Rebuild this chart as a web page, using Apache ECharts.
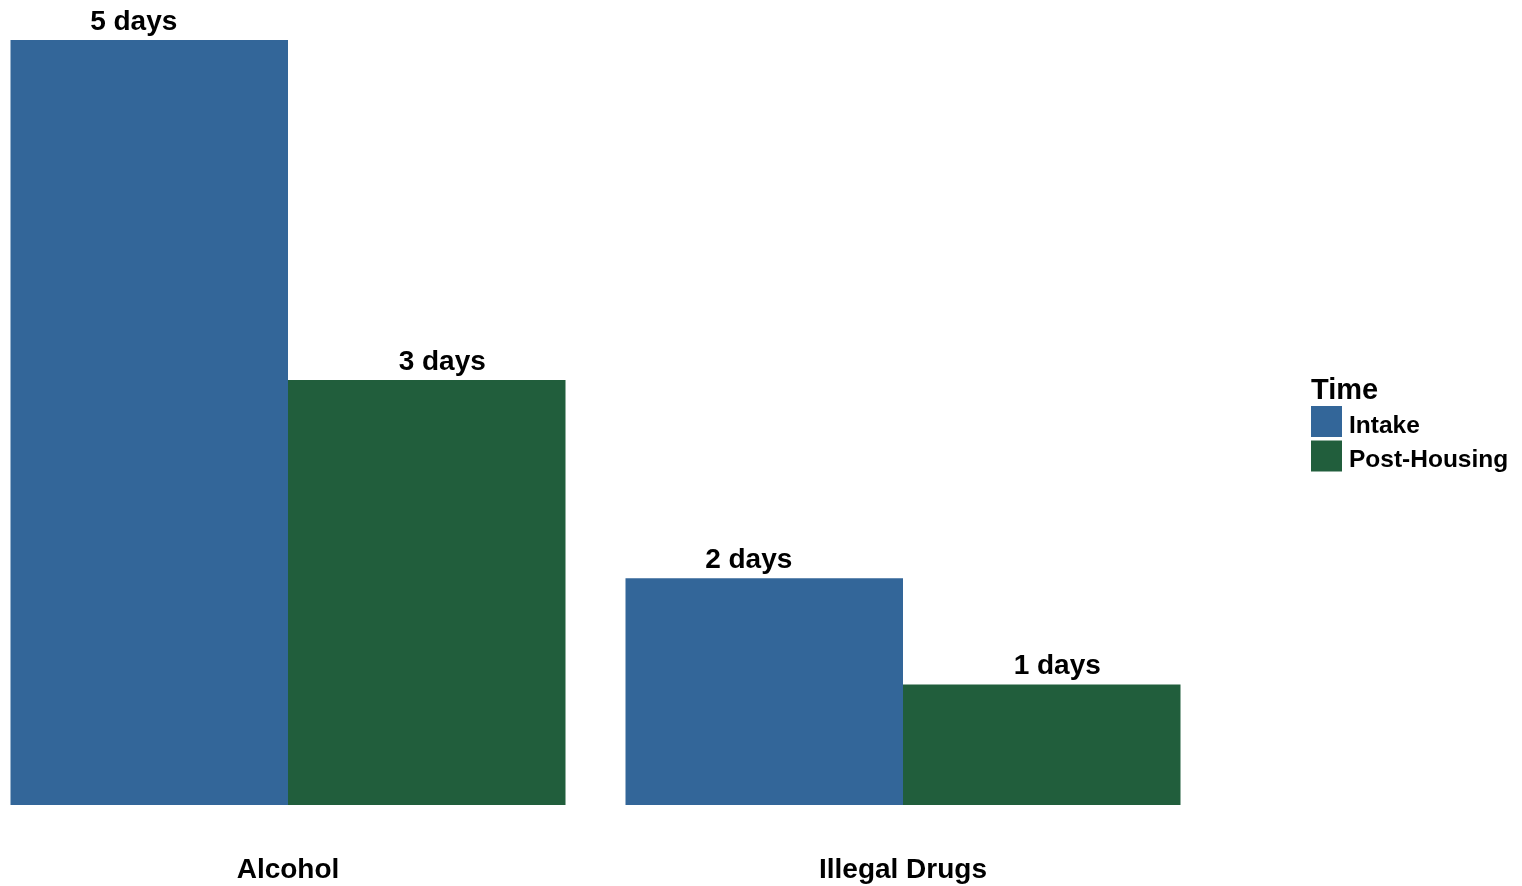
<!DOCTYPE html>
<html>
<head>
<meta charset="utf-8">
<script src="https://cdn.jsdelivr.net/npm/echarts@6/dist/echarts.min.js"></script>
<style>
  html, body { margin: 0; padding: 0; background: #ffffff; }
  #chart { width: 1522px; height: 886px; }
</style>
</head>
<body>
<div id="chart"></div>
<script>
// Average days of use in the past month, by substance and time point
const categories = ['Alcohol', 'Illegal Drugs'];
const seriesNames = ['Intake', 'Post-Housing'];
const intakeDays = [5.4, 1.6];
const postHousingDays = [3.0, 0.85];
const colors = ['#336699', '#215E3C'];

const FONT = '"Liberation Sans", Arial, sans-serif';

const chart = echarts.init(document.getElementById('chart'), null, { renderer: 'canvas' });

// Value labels are dodged slightly wider than the bars themselves
function barSeries(name, values, color, labelShift) {
  return {
    name: name,
    type: 'bar',
    data: values,
    barWidth: 277.5,
    barGap: 0,
    itemStyle: { color: color },
    label: {
      show: true,
      position: 'top',
      distance: 4,
      offset: [labelShift, 0],
      formatter: p => Math.round(p.value) + ' days',
      fontFamily: FONT,
      fontWeight: 'bold',
      fontSize: 28,
      color: '#000000'
    }
  };
}

chart.setOption({
  animation: false,
  backgroundColor: '#ffffff',
  title: {
    text: 'Time',
    left: 1311,
    top: 376,
    padding: 0,
    textStyle: { fontFamily: FONT, fontWeight: 'bold', fontSize: 29, color: '#000000' }
  },
  legend: {
    orient: 'vertical',
    left: 1311,
    top: 406,
    padding: 0,
    itemWidth: 31,
    itemHeight: 31,
    itemGap: 2,
    icon: 'rect',
    data: seriesNames,
    formatter: name => '{t|' + name + '}',
    textStyle: {
      fontFamily: FONT, fontWeight: 'bold', fontSize: 24.5, color: '#000000',
      rich: {
        t: { fontFamily: FONT, fontWeight: 'bold', fontSize: 24.5, color: '#000000', padding: [9, 0, 0, 2] }
      }
    }
  },
  grid: { left: -19.5, width: 1230, top: 40, bottom: 81, containLabel: false, outerBoundsMode: 'none' },
  xAxis: {
    type: 'category',
    data: categories,
    axisLine: { show: false },
    axisTick: { show: false },
    splitLine: { show: false },
    axisLabel: {
      margin: 51,
      fontFamily: FONT,
      fontWeight: 'bold',
      fontSize: 28,
      color: '#000000'
    }
  },
  yAxis: {
    type: 'value',
    min: 0,
    max: 5.4,
    show: false,
    splitLine: { show: false }
  },
  series: [
    barSeries(seriesNames[0], intakeDays, colors[0], -15.5),
    barSeries(seriesNames[1], postHousingDays, colors[1], 15.5)
  ]
});
</script>
</body>
</html>
